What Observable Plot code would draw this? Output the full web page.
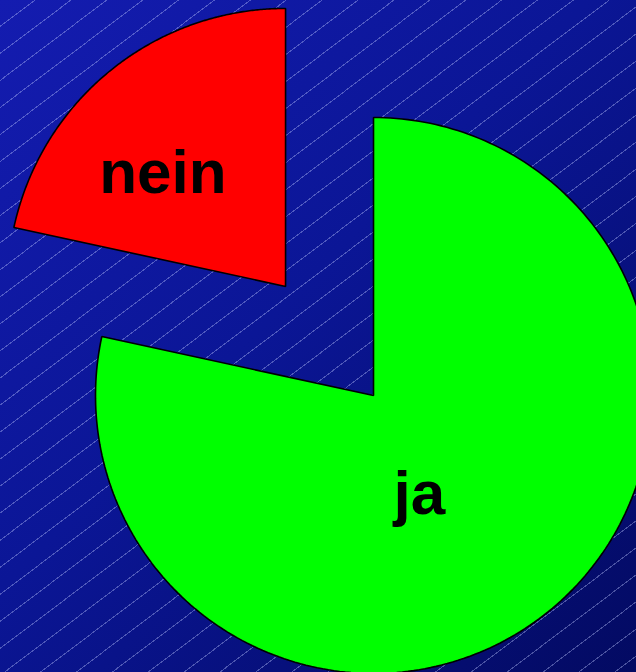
<!DOCTYPE html>
<html>
<head>
<meta charset="utf-8">
<script src="https://cdn.jsdelivr.net/npm/d3@7"></script>
<script src="https://cdn.jsdelivr.net/npm/@observablehq/plot@0.6"></script>
<style>
html, body { margin: 0; padding: 0; background: #0a1590; }
#chart {
  width: 636px; height: 672px; overflow: hidden; position: relative;
  background:
    repeating-linear-gradient(143deg,
      rgba(190, 200, 255, 0) 0px, rgba(190, 200, 255, 0) 20.6px,
      rgba(190, 200, 255, 0.38) 20.6px, rgba(190, 200, 255, 0.38) 21.6px),
    linear-gradient(135deg, #141cb0 0%, #0b1696 45%, #030a62 100%);
}
</style>
</head>
<body>
<div id="chart"></div>
<script>
// ---- data ----
const categories = ["ja", "nein"];
const values = [78.4, 21.6];
const sliceColors = ["#00ff00", "#ff0000"];
const explodedCategories = ["nein"];

// ---- build slice geometry (unit radius, y up) ----
const EXPLODE = 0.504;
const pie = d3.pie().sort(null).value(d => d.value);
const arcs = pie(categories.map((c, i) => ({category: c, value: values[i]})));

const polys = [];
const centers = {};
for (const a of arcs) {
  const mid = (a.startAngle + a.endAngle) / 2;
  const off = explodedCategories.includes(a.data.category) ? EXPLODE : 0;
  const cx = off * Math.sin(mid), cy = off * Math.cos(mid);
  centers[a.data.category] = {cx, cy, mid};
  polys.push({category: a.data.category, x: cx, y: cy});
  const n = 240;
  for (let k = 0; k <= n; k++) {
    const t = a.startAngle + (a.endAngle - a.startAngle) * k / n;
    polys.push({category: a.data.category, x: cx + Math.sin(t), y: cy + Math.cos(t)});
  }
}

function labelPos(cat, frac) {
  const c = centers[cat];
  return {category: cat, x: c.cx + frac * Math.sin(c.mid), y: c.cy + frac * Math.cos(c.mid)};
}
const labJa = [labelPos("ja", 0.4)];
const labNein = [labelPos("nein", 0.6)];

const R = 278; // px per unit radius
const W = 636, H = 672, CX = 373, CY = 395;

const chart = Plot.plot({
  width: W,
  height: H,
  margin: 0,
  style: {background: "transparent", overflow: "hidden"},
  x: {domain: [-CX / R, (W - CX) / R], axis: null},
  y: {domain: [-(H - CY) / R, CY / R], axis: null},
  color: {domain: categories, range: sliceColors},
  marks: [
    ...categories.map(cat => Plot.line(polys.filter(d => d.category === cat), {
      x: "x", y: "y",
      curve: "linear-closed",
      fill: sliceColors[categories.indexOf(cat)],
      stroke: "#000",
      strokeWidth: 1.6,
      strokeLinejoin: "miter"
    })),
    Plot.text(labNein, {
      x: "x", y: "y", text: "category",
      dx: -18, dy: 17,
      fontSize: 62, fontWeight: "bold", fontFamily: "Liberation Sans, Arial, sans-serif",
      fill: "#000"
    }),
    Plot.text(labJa, {
      x: "x", y: "y", text: "category",
      dx: -24, dy: 12,
      fontSize: 62, fontWeight: "bold", fontFamily: "Liberation Sans, Arial, sans-serif",
      fill: "#000"
    })
  ]
});
document.getElementById("chart").appendChild(chart);
</script>
</body>
</html>
